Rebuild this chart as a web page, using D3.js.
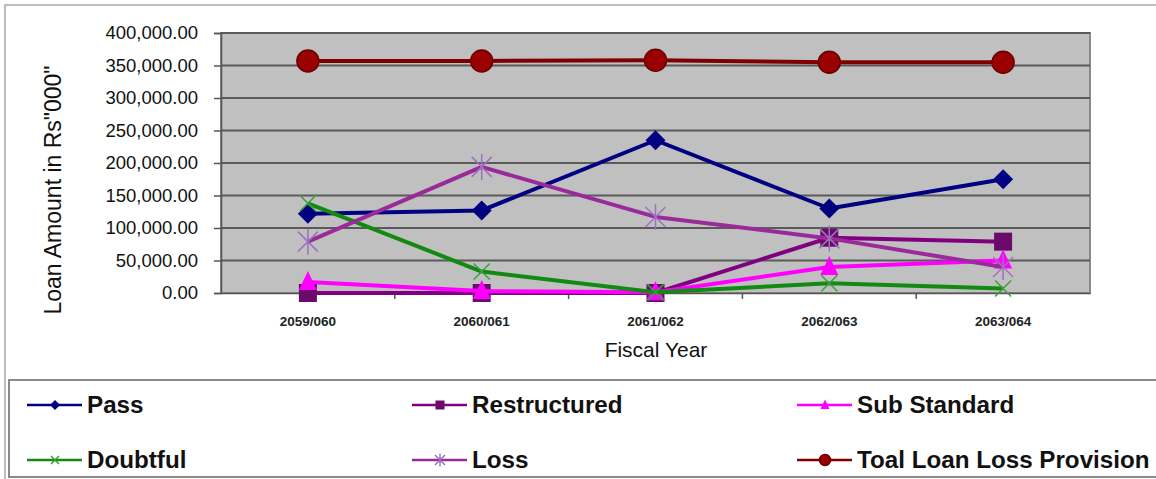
<!DOCTYPE html>
<html>
<head>
<meta charset="utf-8">
<script src="https://cdn.jsdelivr.net/npm/d3@7"></script>
<style>
html,body{margin:0;padding:0;background:#fff;}
svg{display:block;}
</style>
</head>
<body>
<svg id="chart" width="1156" height="479"></svg>
<script>
// ---- data ----
const categories = ["2059/060","2060/061","2061/062","2062/063","2063/064"];
const seriesNames = ["Pass","Restructured","Sub Standard","Doubtful","Loss","Toal Loan Loss Provision"];
const passValues = [122000, 127000, 235000, 130000, 175000];
const restructuredValues = [0, 0, 0, 85000, 79000];
const subStandardValues = [17000, 3000, 1000, 40000, 50000];
const doubtfulValues = [138000, 33000, 1000, 15000, 7000];
const lossValues = [79000, 194000, 117000, 84000, 40000];
const totalValues = [357000, 357000, 358000, 355000, 355000];
const yTicks = [0, 50000, 100000, 150000, 200000, 250000, 300000, 350000, 400000];

// ---- styles ----
const styles = [
  {line:"#000080", marker:"#000080", shape:"diamond"},
  {line:"#800080", marker:"#6a0a6a", shape:"square"},
  {line:"#ff00ff", marker:"#ff00ff", shape:"triangle"},
  {line:"#128a12", marker:"#3aa03a", shape:"x"},
  {line:"#9a2a9a", marker:"#a070c0", shape:"star"},
  {line:"#800000", marker:"#9a0000", shape:"circle"}
];
const allValues = [passValues, restructuredValues, subStandardValues, doubtfulValues, lossValues, totalValues];
const series = seriesNames.map((n,i)=>({name:n, values:allValues[i], style:styles[i]}));

const svg = d3.select("#chart");
const plot = {left:221, right:1090, top:33, bottom:293};

// outer frame
svg.append("rect").attr("x",5).attr("y",5).attr("width",1170).attr("height",490)
  .attr("fill","none").attr("stroke","#a8a8a8").attr("stroke-width",1.5);

const x = d3.scaleBand().domain(categories).range([plot.left, plot.right]);
const y = d3.scaleLinear().domain([0,400000]).range([plot.bottom, plot.top]);
const cx = c => x(c) + x.bandwidth()/2;

// plot background
svg.append("rect").attr("x",plot.left).attr("y",plot.top)
  .attr("width",plot.right-plot.left).attr("height",plot.bottom-plot.top)
  .attr("fill","#c0c0c0").attr("stroke","#8a8a8a").attr("stroke-width",2);

// gridlines
svg.append("g").selectAll("line").data(yTicks.filter(t=>t>0)).join("line")
  .attr("x1",plot.left).attr("x2",plot.right)
  .attr("y1",d=>y(d)).attr("y2",d=>y(d))
  .attr("stroke","#5a5a5a").attr("stroke-width",2);

// y axis
const fmt = d3.format(",.2f");
const yAxis = svg.append("g").attr("transform",`translate(${plot.left},0)`)
  .call(d3.axisLeft(y).tickValues(yTicks).tickFormat(fmt).tickSize(7).tickPadding(16));
yAxis.select(".domain").attr("stroke","#555").attr("stroke-width",1.5);
yAxis.selectAll(".tick line").attr("stroke","#555").attr("stroke-width",1.5);
yAxis.selectAll(".tick text").attr("font-family","Liberation Sans, Arial, sans-serif")
  .attr("font-size",18.5).attr("fill","#111");

// x axis
const xAxis = svg.append("g").attr("transform",`translate(0,${plot.bottom})`)
  .call(d3.axisBottom(x).tickSize(0).tickPadding(23));
xAxis.select(".domain").attr("stroke","#555").attr("stroke-width",1.5);
xAxis.selectAll(".tick text").attr("font-family","Liberation Sans, Arial, sans-serif")
  .attr("font-size",13.5).attr("font-weight","bold").attr("fill","#222");
// boundary tick marks between categories
svg.append("g").selectAll("line").data(categories.slice(1)).join("line")
  .attr("x1",d=>x(d)).attr("x2",d=>x(d))
  .attr("y1",plot.bottom).attr("y2",plot.bottom+6)
  .attr("stroke","#555").attr("stroke-width",1.5);

// axis titles
svg.append("text").attr("transform","translate(61,190) rotate(-90)")
  .attr("text-anchor","middle").attr("font-family","Liberation Sans, Arial, sans-serif")
  .attr("font-size",23).attr("fill","#111").text('Loan Amount in Rs"000"');
svg.append("text").attr("x",656).attr("y",357)
  .attr("text-anchor","middle").attr("font-family","Liberation Sans, Arial, sans-serif")
  .attr("font-size",21).attr("fill","#111").text("Fiscal Year");

// marker drawing
function drawMarker(g, shape, color, px, py, scale){
  const s = scale;
  if(shape==="diamond"){
    g.append("path").attr("d",`M${px},${py-10*s}L${px+10*s},${py}L${px},${py+10*s}L${px-10*s},${py}Z`).attr("fill",color);
  } else if(shape==="square"){
    g.append("rect").attr("x",px-9*s).attr("y",py-9*s).attr("width",18*s).attr("height",18*s).attr("fill",color);
  } else if(shape==="triangle"){
    g.append("path").attr("d",`M${px},${py-11*s}L${px+9*s},${py+8*s}L${px-9*s},${py+8*s}Z`).attr("fill",color);
  } else if(shape==="x"){
    g.append("path").attr("d",`M${px-8*s},${py-8*s}L${px+8*s},${py+8*s}M${px+8*s},${py-8*s}L${px-8*s},${py+8*s}`)
      .attr("stroke",color).attr("stroke-width",1.5).attr("fill","none");
  } else if(shape==="star"){
    g.append("path").attr("d",`M${px-10*s},${py-10*s}L${px+10*s},${py+10*s}M${px+10*s},${py-10*s}L${px-10*s},${py+10*s}M${px},${py-13*s}L${px},${py+13*s}`)
      .attr("stroke",color).attr("stroke-width",1.5).attr("fill","none");
  } else if(shape==="circle"){
    g.append("circle").attr("cx",px).attr("cy",py).attr("r",11*s).attr("fill",color).attr("stroke","#6a0000").attr("stroke-width",1.5);
  }
}

// series lines + markers
const line = d3.line().x((d,i)=>cx(categories[i])).y(d=>y(d));
series.forEach(s=>{
  const g = svg.append("g");
  g.append("path").datum(s.values).attr("d",line)
    .attr("fill","none").attr("stroke",s.style.line).attr("stroke-width",4).attr("stroke-linejoin","round");
  s.values.forEach((v,i)=>drawMarker(g, s.style.shape, s.style.marker, cx(categories[i]), y(v), 1));
});

// legend
svg.append("rect").attr("x",9).attr("y",380).attr("width",1160).attr("height",97)
  .attr("fill","#fff").attr("stroke","#8a8a8a").attr("stroke-width",2);
const legCols = [27, 412, 797];
const legRows = [405, 460];
series.forEach((s,i)=>{
  const col = i%3, row = Math.floor(i/3);
  const lx = legCols[col], ly = legRows[row];
  const g = svg.append("g");
  g.append("line").attr("x1",lx).attr("x2",lx+55).attr("y1",ly).attr("y2",ly)
    .attr("stroke",s.style.line).attr("stroke-width",2.5);
  drawMarker(g, s.style.shape, s.style.marker, lx+28, ly, 0.5);
  g.append("text").attr("x",lx+60).attr("y",ly+8)
    .attr("font-family","Liberation Sans, Arial, sans-serif").attr("font-weight","bold")
    .attr("font-size",24.2).attr("fill","#111").text(s.name);
});
</script>
</body>
</html>
